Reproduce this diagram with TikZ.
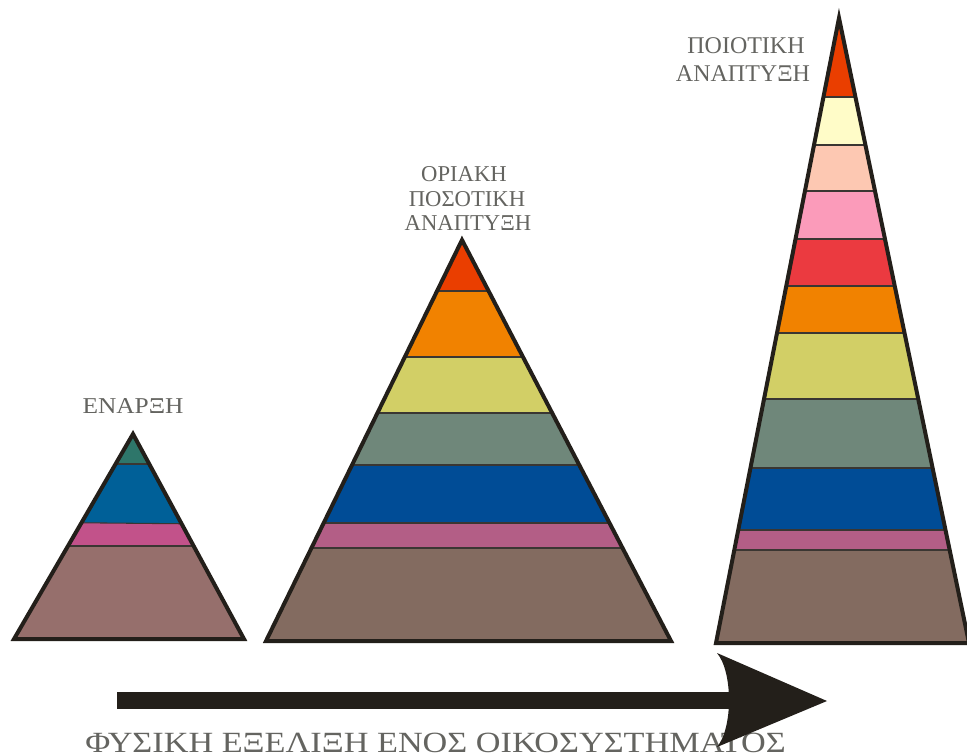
\documentclass[tikz,border=0pt]{standalone}
\usepackage{fontspec}
\setmainfont{Liberation Serif}
\definecolor{lbl}{HTML}{646460}
\definecolor{ink}{HTML}{231F1A}
\definecolor{sep}{HTML}{3A3632}
\definecolor{aTeal}{HTML}{2E766A}
\definecolor{aBlue}{HTML}{006098}
\definecolor{aPink}{HTML}{C2528A}
\definecolor{aBrown}{HTML}{966F6C}
\definecolor{cRed}{HTML}{EA3E00}
\definecolor{cOrange}{HTML}{F18200}
\definecolor{cOlive}{HTML}{D2CF66}
\definecolor{cGreen}{HTML}{6F877A}
\definecolor{cBlue}{HTML}{004C96}
\definecolor{cPink}{HTML}{B35E86}
\definecolor{cBrown}{HTML}{836B60}
\definecolor{cCream}{HTML}{FFFCC8}
\definecolor{cPeach}{HTML}{FDC8B2}
\definecolor{cRose}{HTML}{FB9BBA}
\definecolor{cScarlet}{HTML}{EB3A40}
\tikzset{
  outline/.style={draw=ink, line width=3pt, line join=miter, miter limit=12},
  sepline/.style={draw=sep, line width=0.8pt},
  lbltext/.style={text=lbl, inner sep=0pt, anchor=base},
}
\begin{document}
\begin{tikzpicture}[x=0.75pt, y=-0.75pt]
\useasboundingbox (0,0) rectangle (967,756);
% ---------- pyramid 1 ----------
\begin{scope}
  \clip (14,639) -- (133,434) -- (244,639) -- cycle;
  \fill[aTeal] (0,420) rectangle (260,464);
  \fill[aBlue] (0,464) -- (260,464) -- (260,524.5) -- (0,522) -- cycle;
  \fill[aPink] (0,522) -- (260,524.5) -- (260,546) -- (0,546) -- cycle;
  \fill[aBrown] (0,546) rectangle (260,645);
  \draw[sepline] (0,464) -- (260,464);
  \draw[sepline] (0,522) -- (260,524.5);
  \draw[sepline] (0,546) -- (260,546);
\end{scope}
\draw[outline] (14,639) -- (133,434) -- (244,639) -- cycle;
\node[lbltext, xscale=1.12] (lab1) at (133,413.5) {\fontsize{17}{20}\selectfont ΕΝΑΡΞΗ};
% ---------- pyramid 2 ----------
\begin{scope}
  \clip (266,641) -- (462,240) -- (671,641) -- cycle;
  \fill[cRed] (250,230) rectangle (690,291);
  \fill[cOrange] (250,291) rectangle (690,357);
  \fill[cOlive] (250,357) rectangle (690,413);
  \fill[cGreen] (250,413) rectangle (690,465);
  \fill[cBlue] (250,465) rectangle (690,523);
  \fill[cPink] (250,523) rectangle (690,548);
  \fill[cBrown] (250,548) rectangle (690,650);
  \foreach \yy in {291,357,413,465,523,548}
    \draw[sepline] (250,\yy) -- (690,\yy);
\end{scope}
\draw[outline] (266,641) -- (462,240) -- (671,641) -- cycle;
\node[lbltext] (lab2a) at (464,181) {\fontsize{17}{20}\selectfont ΟΡΙΑΚΗ};
\node[lbltext] (lab2b) at (467,206) {\fontsize{17}{20}\selectfont ΠΟΣΟΤΙΚΗ};
\node[lbltext] (lab2c) at (468,230) {\fontsize{17}{20}\selectfont ΑΝΑΠΤΥΞΗ};
% ---------- pyramid 3 ----------
\begin{scope}
  \clip (716,643) -- (839,18) -- (969,643) -- cycle;
  \fill[cRed] (700,0) rectangle (990,97);
  \fill[cCream] (700,97) rectangle (990,145);
  \fill[cPeach] (700,145) rectangle (990,191);
  \fill[cRose] (700,191) rectangle (990,239);
  \fill[cScarlet] (700,239) rectangle (990,286);
  \fill[cOrange] (700,286) rectangle (990,333);
  \fill[cOlive] (700,333) rectangle (990,399);
  \fill[cGreen] (700,399) rectangle (990,468);
  \fill[cBlue] (700,468) rectangle (990,530);
  \fill[cPink] (700,530) rectangle (990,550);
  \fill[cBrown] (700,550) rectangle (990,650);
  \foreach \yy in {97,145,191,239,286,333,399,468,530,550}
    \draw[sepline] (700,\yy) -- (990,\yy);
\end{scope}
\draw[outline] (716,643) -- (839,18) -- (969,643) -- cycle;
\node[lbltext] (lab3a) at (746,54) {\fontsize{18}{21}\selectfont ΠΟΙΟΤΙΚΗ};
\node[lbltext] (lab3b) at (743,81.5) {\fontsize{18}{21}\selectfont ΑΝΑΠΤΥΞΗ};
% ---------- bottom caption and arrow ----------
\node[lbltext, anchor=base west, xscale=1.167] (caption) at (85,752) {\fontsize{22}{26}\selectfont ΦΥΣΙΚΗ ΕΞΕΛΙΞΗ ΕΝΟΣ ΟΙΚΟΣΥΣΤΗΜΑΤΟΣ};
\coordinate (shaftL) at (117,692);
\coordinate (shaftR) at (735,709);
\fill[ink] (shaftL) rectangle (shaftR);
\coordinate (headTop) at (717,653);
\coordinate (headTip) at (827,701);
\coordinate (headBot) at (717,747);
\fill[ink] (headTop) .. controls (733,672) and (733,728) .. (headBot) -- (headTip) -- cycle;
\end{tikzpicture}
\end{document}
